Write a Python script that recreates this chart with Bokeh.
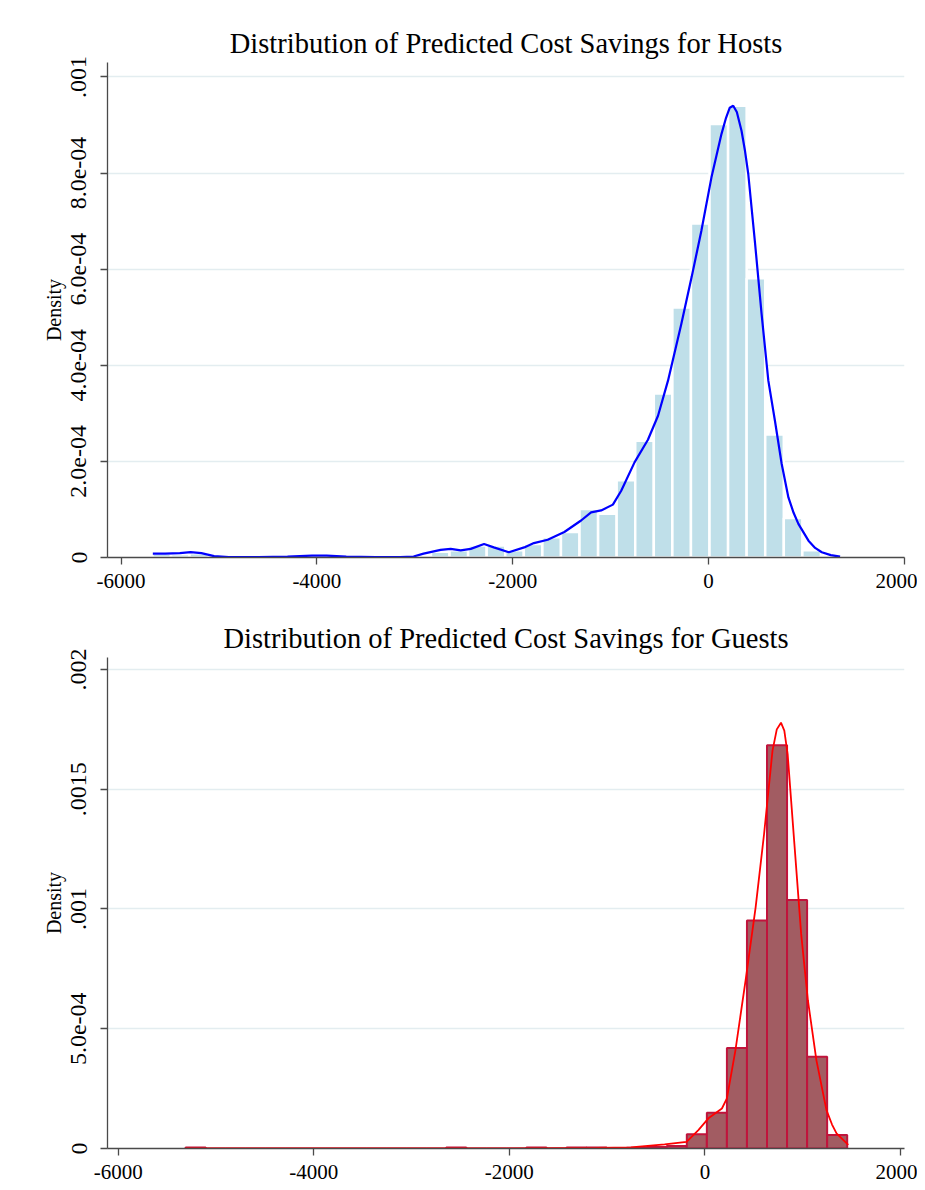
import numpy as np
from bokeh.plotting import figure
from bokeh.layouts import column
from bokeh.models import Range1d, FixedTicker
from bokeh.embed import file_html
from bokeh.resources import INLINE

# ---------------- data ----------------
x_ticks = [-6000, -4000, -2000, 0, 2000]
x_tick_labels = ["-6000", "-4000", "-2000", "0", "2000"]

host_y_ticks = [0, 0.0002, 0.0004, 0.0006, 0.0008, 0.001]
host_y_tick_labels = ["0", "2.0e-04", "4.0e-04", "6.0e-04", "8.0e-04", ".001"]

guest_y_ticks = [0, 0.0005, 0.001, 0.0015, 0.002]
guest_y_tick_labels = ["0", "5.0e-04", ".001", ".0015", ".002"]

# Hosts histogram (37 bins)
host_bin_start = -5680
host_bin_width = 189.7
host_density = [
    8e-6, 7e-6, 9e-6, 4e-6, 2e-6, 1e-6, 1e-6, 2e-6, 2e-6, 4e-6,
    3e-6, 1e-6, 1e-6, 1e-6, 3e-6, 1.2e-5, 1.5e-5, 2.5e-5, 2.5e-5, 1.5e-5,
    2.8e-5, 4.2e-5, 5.3e-5, 1.01e-4, 9.1e-5, 1.61e-4, 2.43e-4, 3.41e-4, 5.20e-4, 6.95e-4,
    9.02e-4, 9.40e-4, 5.81e-4, 2.56e-4, 8.2e-5, 1.5e-5, 2e-6,
]

# Hosts kernel density curve
host_kde_x = [-5676, -5550, -5400, -5290, -5180, -5050, -4900, -4600, -4300, -4050,
              -3900, -3700, -3400, -3150, -3012, -2910, -2736, -2633, -2531, -2428,
              -2292, -2193, -2039, -1882, -1783, -1642, -1472, -1301, -1199, -1096,
              -976, -891, -755, -618, -515, -413, -277, -170, -72, 31,
              133, 180, 218, 253, 290, 338, 372, 407, 474, 543,
              612, 679, 748, 817, 870, 919, 1022, 1090, 1158, 1250, 1345]
host_kde_y = [8e-6, 8e-6, 9e-6, 1.1e-5, 9e-6, 3e-6, 1e-6, 1e-6, 2e-6, 4e-6,
              4e-6, 2e-6, 1e-6, 1e-6, 2e-6, 8e-6, 1.6e-5, 1.8e-5, 1.5e-5, 1.8e-5,
              2.8e-5, 2.1e-5, 1.1e-5, 2.1e-5, 3.0e-5, 3.7e-5, 5.3e-5, 7.7e-5, 9.4e-5, 9.8e-5,
              1.10e-4, 1.39e-4, 1.98e-4, 2.45e-4, 2.95e-4, 3.68e-4, 4.86e-4, 5.85e-4, 6.80e-4, 7.91e-4,
              8.81e-4, 9.15e-4, 9.36e-4, 9.40e-4, 9.27e-4, 8.88e-4, 8.48e-4, 7.98e-4, 6.59e-4, 5.07e-4,
              3.68e-4, 2.85e-4, 1.95e-4, 1.25e-4, 9.3e-5, 7.0e-5, 3.5e-5, 2.0e-5, 1.1e-5, 5e-6, 2e-6]

# Guests histogram (33 bins)
guest_bin_start = -5310
guest_bin_width = 205.0
guest_density = [
    4e-6, 0, 0, 0, 0, 0, 0, 0, 0, 0,
    0, 0, 0, 4e-6, 0, 0, 0, 4e-6, 0, 4e-6,
    4e-6, 2e-6, 3e-6, 6e-6, 1.0e-5, 6.0e-5, 1.49e-4, 4.20e-4, 9.52e-4, 1.684e-3,
    1.038e-3, 3.83e-4, 5.6e-5,
]

# Guests kernel density curve
guest_kde_x = [-5310, -4000, -3000, -2000, -1500, -1101, -757, -412, -188, -67,
               36, 174, 225, 312, 416, 519, 605, 691, 735, 778,
               812, 846, 915, 984, 1053, 1140, 1243, 1300, 1346, 1466]
guest_kde_y = [5e-7, 3e-7, 3e-7, 5e-7, 1e-6, 2e-6, 5e-6, 1.7e-5, 2.8e-5, 7.7e-5,
               1.26e-4, 1.67e-4, 2.09e-4, 4.10e-4, 7.02e-4, 1.008e-3, 1.313e-3, 1.660e-3, 1.750e-3, 1.778e-3,
               1.745e-3, 1.647e-3, 1.272e-3, 8.97e-4, 6.19e-4, 3.69e-4, 1.60e-4, 1.00e-4, 6.3e-5, 1.5e-5]

# ---------------- styling ----------------
FONT = "Liberation Serif"
AXIS_COLOR = "#4a4a4a"
GRID_COLOR = "#e3edf0"


def style(p, y_ticks, y_labels):
    p.title.align = "center"
    p.title.text_font = FONT
    p.title.text_font_size = "28.5px"
    p.title.text_font_style = "normal"
    p.title.text_color = "black"
    p.title.standoff = 8
    p.outline_line_color = None
    p.background_fill_color = "white"
    p.border_fill_color = "white"
    p.xgrid.visible = False
    p.ygrid.grid_line_color = GRID_COLOR
    p.ygrid.grid_line_width = 1.3

    p.xaxis.ticker = FixedTicker(ticks=x_ticks)
    p.xaxis.major_label_overrides = dict(zip(x_ticks, x_tick_labels))
    p.yaxis.ticker = FixedTicker(ticks=y_ticks)
    p.yaxis.major_label_overrides = dict(zip(y_ticks, y_labels))
    p.yaxis.major_label_orientation = "vertical"
    p.yaxis.axis_label = "Density"

    for ax in (p.xaxis, p.yaxis):
        ax.axis_line_color = AXIS_COLOR
        ax.axis_line_width = 1.3
        ax.major_tick_line_color = AXIS_COLOR
        ax.major_tick_line_width = 1.3
        ax.major_tick_out = 7
        ax.major_tick_in = 0
        ax.minor_tick_line_color = None
        ax.major_label_text_font = FONT
        ax.major_label_text_color = "black"
        ax.axis_label_text_font = FONT
        ax.axis_label_text_font_size = "20px"
        ax.axis_label_text_font_style = "normal"
        ax.axis_label_text_color = "black"
    p.xaxis.major_label_text_font_size = "21px"
    p.xaxis.major_label_standoff = 9
    p.yaxis.major_label_text_font_size = "24px"
    p.yaxis.major_label_standoff = 14
    p.yaxis.axis_label_standoff = 4


# ---------------- top: hosts ----------------
p1 = figure(width=917, height=600, output_backend="svg", toolbar_location=None,
            x_range=Range1d(-6139, 2003), y_range=Range1d(0, 0.00103),
            min_border_left=100, min_border_right=13, min_border_top=62, min_border_bottom=43,
            title="Distribution of Predicted Cost Savings for Hosts")
style(p1, host_y_ticks, host_y_tick_labels)

h_edges = host_bin_start + host_bin_width * np.arange(len(host_density) + 1)
p1.quad(left=h_edges[:-1], right=h_edges[1:], bottom=0, top=host_density,
        fill_color="#bfdfe9", line_color="white", line_width=2.5)
p1.line(host_kde_x, host_kde_y, line_color="#0000ff", line_width=2.2)

# ---------------- bottom: guests ----------------
p2 = figure(width=917, height=589, output_backend="svg", toolbar_location=None,
            x_range=Range1d(-6109, 2041), y_range=Range1d(0, 0.00205),
            min_border_left=107, min_border_right=13, min_border_top=57, min_border_bottom=41,
            title="Distribution of Predicted Cost Savings for Guests")
style(p2, guest_y_ticks, guest_y_tick_labels)

g_edges = guest_bin_start + guest_bin_width * np.arange(len(guest_density) + 1)
p2.quad(left=g_edges[:-1], right=g_edges[1:], bottom=0, top=guest_density,
        fill_color="#a25c62", line_color="#c0143c", line_width=2)
p2.line(guest_kde_x, guest_kde_y, line_color="#ff0000", line_width=1.8)

layout = column(p1, p2, spacing=0)
open("out.html", "w").write(file_html(layout, INLINE))
